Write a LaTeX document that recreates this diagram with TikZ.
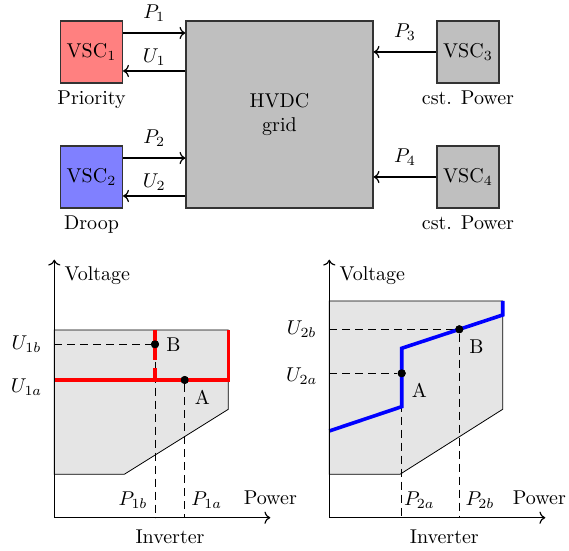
\documentclass[tikz,border=0pt]{standalone}
\usepackage{amsmath}
\usepackage{tikz}
\usetikzlibrary{arrows.meta,positioning}

\tikzset{
    conv/.style={draw=black!80, semithick, minimum size=31pt, inner sep=1pt},
    flow/.style={->, semithick},
    guide/.style={thin, dash pattern=on 4pt off 2.5pt},
    area/.style={fill=gray!20, draw=black, thin},
    optpt/.style={circle, fill=black, inner sep=0pt, minimum size=4pt}
}

\begin{document}
\begin{tikzpicture}[>=To, x=10pt, y=10pt]

\useasboundingbox (0,0) rectangle (28.45,27.55);

% ---------------- XARXA ----------------

\node[conv, fill=gray!50, minimum size=93.5pt, align=center] (grid)
    at (13.975,21.825) {HVDC\\grid};

\node[conv, fill=red!50]  (vsc1) at (4.575,24.95) {VSC$_1$};
\node[conv, fill=blue!50] (vsc2) at (4.575,18.7)  {VSC$_2$};
\node[conv, fill=gray!50] (vsc3) at (23.4,24.95)  {VSC$_3$};
\node[conv, fill=gray!50] (vsc4) at (23.4,18.7)   {VSC$_4$};

\node[below=0pt of vsc1] (mode1) {Priority};
\node[below=0pt of vsc2] (mode2) {Droop};
\node[below=0pt of vsc3] (mode3) {cst. Power};
\node[below=0pt of vsc4] (mode4) {cst. Power};

% ---------------- FLUXOS ----------------

\draw[flow] (vsc1.31) -- (vsc1.31 -| grid.west)
    node[midway, above=2pt] (p1) {$P_1$};
\draw[flow] (vsc1.-31 -| grid.west) -- (vsc1.-31)
    node[midway, above=-1pt] (u1) {$U_1$};

\draw[flow] (vsc2.31) -- (vsc2.31 -| grid.west)
    node[midway, above=2pt] (p2) {$P_2$};
\draw[flow] (vsc2.-31 -| grid.west) -- (vsc2.-31)
    node[midway, above=-1pt] (u2) {$U_2$};

\draw[flow] (vsc3.west) -- (vsc3.west -| grid.east)
    node[midway, above=2pt] (p3) {$P_3$};
\draw[flow] (vsc4.west) -- (vsc4.west -| grid.east)
    node[midway, above=2pt] (p4) {$P_4$};

% ---------------- CORBA 1 (PRIORITAT) ----------------

\begin{scope}[shift={(2.715,1.665)}]
    \coordinate (o1) at (0,0);

    \draw[area] (0,9.385) -- (8.7,9.385) -- (8.7,5.42)
        -- (3.5,2.17) -- (0,2.17) -- cycle;

    \node[optpt] (b1) at (5.035,8.67) {};
    \node[optpt] (a1) at (6.52,6.885) {};

    \draw[guide] (b1 -| o1) -- (b1) -- (b1 |- o1);
    \draw[guide] (a1) -- (a1 |- o1);

    \draw[red, line width=1.7pt] (0,6.885) -- (8.7,6.885) -- (8.7,9.385);
    \draw[red, line width=1.7pt, dash pattern=on 15pt off 4pt]
        (5.035,9.385) -- (5.035,6.885);

    \node[optpt] at (b1) {};
    \node[optpt] at (a1) {};

    \draw[->, semithick] (o1) -- (10.8,0) node[above=3pt] (pw1) {Power};
    \draw[->, semithick] (o1) -- (0,12.9)
        node[below right, xshift=1.5pt] (vt1) {Voltage};

    \node[right=0pt of b1] (lb1) {B};
    \node[below right=0pt of a1] (la1) {A};

    \node (u1b) at (-1.39,8.67) {$U_{1b}$};
    \node (u1a) at (-1.39,6.55) {$U_{1a}$};
    \node (p1b) at (3.94,0.885) {$P_{1b}$};
    \node (p1a) at (7.62,0.885) {$P_{1a}$};
    \node (inv1) at (5.785,-0.95) {Inverter};
\end{scope}

% ---------------- CORBA 2 (DROOP) ----------------

\begin{scope}[shift={(16.465,1.665)}]
    \coordinate (o2) at (0,0);

    \draw[area] (0,10.835) -- (8.67,10.835) -- (8.67,5.42)
        -- (3.535,2.17) -- (0,2.17) -- cycle;

    \node[optpt] (b2) at (6.5,9.42) {};
    \node[optpt] (a2) at (3.62,7.22) {};

    \draw[guide] (b2 -| o2) -- (b2) -- (b2 |- o2);
    \draw[guide] (a2 -| o2) -- (a2) -- (a2 |- o2);

    \draw[blue, line width=1.8pt] (0,4.335) -- (3.62,5.55) -- (3.62,8.47)
        -- (8.67,10.135) -- (8.67,10.835);

    \node[optpt] at (b2) {};
    \node[optpt] at (a2) {};

    \draw[->, semithick] (o2) -- (10.8,0)
        node[above=3pt, xshift=-3pt] (pw2) {Power};
    \draw[->, semithick] (o2) -- (0,12.9)
        node[below right, xshift=1.5pt] (vt2) {Voltage};

    \node[below right=0pt of b2] (lb2) {B};
    \node[below right=0pt of a2] (la2) {A};

    \node (u2b) at (-1.38,9.42)  {$U_{2b}$};
    \node (u2a) at (-1.38,7.085) {$U_{2a}$};
    \node (p2a) at (4.5,0.885)   {$P_{2a}$};
    \node (p2b) at (7.535,0.885) {$P_{2b}$};
    \node (inv2) at (5.75,-0.95) {Inverter};
\end{scope}

\end{tikzpicture}
\end{document}
